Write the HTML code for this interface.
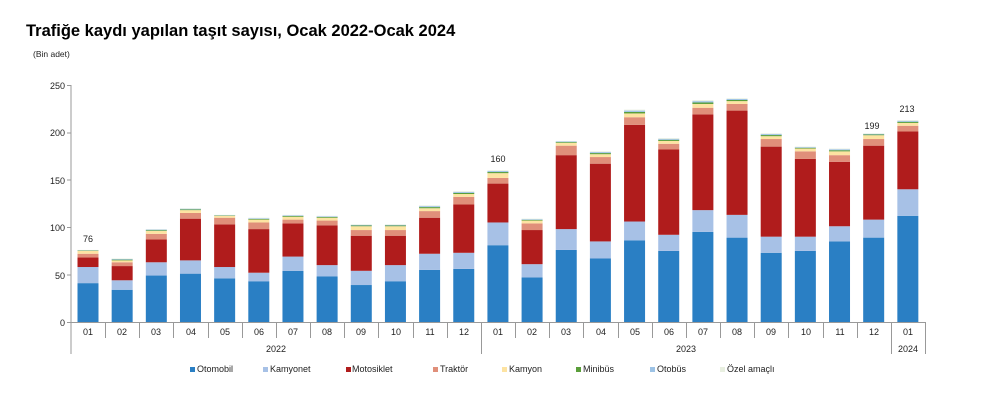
<!DOCTYPE html>
<html><head><meta charset="utf-8"><style>
body{margin:0;background:#fff;}
svg{display:block;font-family:"Liberation Sans",Arial,sans-serif;}
</style></head><body>
<svg id="s" width="998" height="406" viewBox="0 0 998 406">
<text x="26" y="36" font-size="16.5" font-weight="bold" fill="#000">Trafiğe kaydı yapılan taşıt sayısı, Ocak 2022-Ocak 2024</text>
<text x="33" y="57" font-size="8.5" fill="#222">(Bin adet)</text>
<g font-size="9" fill="#222" text-anchor="end">
<text x="65" y="89">250</text><text x="65" y="136">200</text><text x="65" y="184">150</text><text x="65" y="231">100</text><text x="65" y="279">50</text><text x="65" y="326">0</text>
</g>
<g stroke="#999" stroke-width="1">
<line x1="71" y1="85" x2="71" y2="354"/>
<line x1="67" y1="85.5" x2="71" y2="85.5"/><line x1="67" y1="133" x2="71" y2="133"/><line x1="67" y1="180" x2="71" y2="180"/><line x1="67" y1="227.5" x2="71" y2="227.5"/><line x1="67" y1="275" x2="71" y2="275"/>
<line x1="67" y1="322.5" x2="925" y2="322.5"/>
</g>
<g id="bars"></g>
<g id="ticks" stroke="#999" stroke-width="1"></g>
<g font-size="9" fill="#222" text-anchor="middle">
<text x="88" y="335">01</text><text x="122" y="335">02</text><text x="156" y="335">03</text><text x="191" y="335">04</text><text x="225" y="335">05</text><text x="259" y="335">06</text><text x="293" y="335">07</text><text x="327" y="335">08</text><text x="361" y="335">09</text><text x="396" y="335">10</text><text x="430" y="335">11</text><text x="464" y="335">12</text>
<text x="498" y="335">01</text><text x="532" y="335">02</text><text x="566" y="335">03</text><text x="601" y="335">04</text><text x="635" y="335">05</text><text x="669" y="335">06</text><text x="703" y="335">07</text><text x="737" y="335">08</text><text x="771" y="335">09</text><text x="806" y="335">10</text><text x="840" y="335">11</text><text x="874" y="335">12</text><text x="908" y="335">01</text>
<text x="276" y="352">2022</text><text x="686" y="352">2023</text><text x="908" y="352">2024</text>
<text x="88" y="242">76</text><text x="498" y="162">160</text><text x="872" y="129">199</text><text x="907" y="112">213</text>
</g>
<g font-size="9" fill="#222">
<rect x="190" y="367" width="5" height="5" fill="#2a7fc4"/><text x="197" y="372">Otomobil</text>
<rect x="263" y="367" width="5" height="5" fill="#a7c1e6"/><text x="270" y="372">Kamyonet</text>
<rect x="346" y="367" width="5" height="5" fill="#b01c1c"/><text x="352" y="372">Motosiklet</text>
<rect x="433" y="367" width="5" height="5" fill="#e08f7a"/><text x="440" y="372">Traktör</text>
<rect x="502" y="367" width="5" height="5" fill="#fde3a2"/><text x="509" y="372">Kamyon</text>
<rect x="576" y="367" width="5" height="5" fill="#5a9e3a"/><text x="583" y="372">Minibüs</text>
<rect x="650" y="367" width="5" height="5" fill="#9dc3e6"/><text x="657" y="372">Otobüs</text>
<rect x="720" y="367" width="5" height="5" fill="#e8efe0"/><text x="727" y="372">Özel amaçlı</text>
</g>
</svg>
<script>
var d=[[41,58,68,72,75,76],[34,44,59,63,65,67],[49,63,87,93,96,98],[51,65,109,115,118,120],[46,58,103,110,112,113],[43,52,98,105,108,110],[54,69,104,108,111,113],[48,60,102,107,110,112],[39,54,91,97,101,103],[43,60,91,97,101,103],[55,72,110,117,120,123],[56,73,124,132,135,138],[81,105,146,152,157,160],[47,61,97,104,107,109],[76,98,176,186,189,191],[67,85,167,174,177,180],[86,106,208,216,220,224],[75,92,182,188,191,194],[95,118,219,226,230,234],[89,113,223,230,233,236],[73,90,185,193,196,199],[75,90,172,180,183,185],[85,101,169,176,180,183],[89,108,186,193,197,199],[112,140,201,207,210,213]];
var c=["#2a7fc4","#a7c1e6","#b01c1c","#e08f7a","#fde3a2","#5a9e3a","#9dc3e6","#e8efe0"];
var ns="http://www.w3.org/2000/svg",g=document.getElementById("bars"),t=document.getElementById("ticks");
function y(v){return 322-v*0.948;}
d.forEach(function(r,i){
 var x=71+i*34.16+6.5,tot=r[5];
 var cum=[r[0],r[1],r[2],r[3],r[4],r[4]+(tot-r[4])*0.4,r[4]+(tot-r[4])*0.75,tot];
 var prev=0;
 cum.forEach(function(v,k){var e=document.createElementNS(ns,"rect");e.setAttribute("x",x);e.setAttribute("width",21);e.setAttribute("y",y(v));e.setAttribute("height",Math.max(0,(v-prev)*0.948));e.setAttribute("fill",c[k]);g.appendChild(e);prev=v;});
});
for(var i=1;i<=25;i++){var x=Math.round(71+i*34.16)+0.5;var l=document.createElementNS(ns,"line");l.setAttribute("x1",x);l.setAttribute("x2",x);l.setAttribute("y1",322);l.setAttribute("y2",(i==12||i==24||i==25)?354:338);t.appendChild(l);}
</script>
</body></html>
